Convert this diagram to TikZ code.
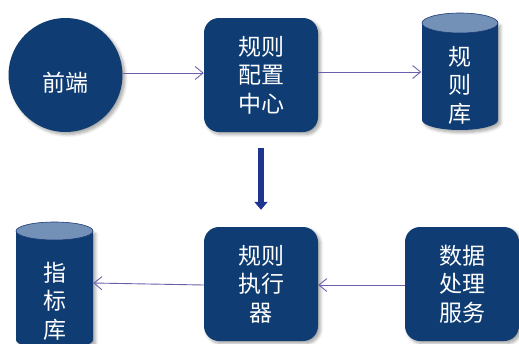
\documentclass[tikz,border=0pt]{standalone}
\usepackage{fontspec}
\newfontfamily\cjk{Noto Sans CJK SC}
\usetikzlibrary{arrows.meta,shadows.blur,calc}
\definecolor{navy}{HTML}{0E3C73}
\definecolor{capblue}{HTML}{7391B6}
\definecolor{edgeblue}{HTML}{1B3A78}
\definecolor{linkcol}{HTML}{6A5FAA}
\definecolor{bigarrow}{HTML}{1E3590}
\tikzset{
  x=1pt, y=1pt,
  softshadow/.style={blur shadow={shadow xshift=2.5pt, shadow yshift=-2.5pt,
      shadow blur radius=3pt, shadow blur steps=6, shadow opacity=35}},
  lbl/.style={text=white, font=\cjk\fontsize{23}{28.5}\selectfont, align=center, inner sep=0pt},
  procbox/.style={lbl, fill=navy, rounded corners=15pt, minimum width=114pt,
      minimum height=114pt, softshadow},
  endpoint/.style={lbl, fill=navy, circle, minimum size=114pt, softshadow},
  store/.style={lbl, minimum width=77pt, minimum height=100pt},
  storecap/.style={fill=capblue, draw=edgeblue, line width=0.6pt},
  link/.style={draw=linkcol, line width=0.9pt, -{Straight Barb[length=8pt,width=13pt]}},
}
\begin{document}
\begin{tikzpicture}
\useasboundingbox (0,0) rectangle (519,-343);
\clip (0,0) rectangle (519,-343);

% top row
\node[endpoint, text height=37pt, text depth=4pt] (fe) at (65.5,-75) {前端};
\node[procbox] (cfg) at (261,-75) {规则\\配置\\中心};

% rule store cylinder
\fill[navy, softshadow] (422,-23) -- (422,-120)
  arc[start angle=180, end angle=360, x radius=38, y radius=10] -- (498,-23) -- cycle;
\filldraw[storecap] (460,-23) ellipse [x radius=38, y radius=10];
\node[store] (rdb) at (460,-85) {规\\则\\库};

% bottom row
\node[procbox] (exe) at (261,-284) {规则\\执行\\器};
\node[procbox] (dps) at (462,-284) {数据\\处理\\服务};

% metric store cylinder
\fill[navy, softshadow] (16,-231) -- (16,-340)
  arc[start angle=180, end angle=360, x radius=38.5, y radius=9] -- (93,-231) -- cycle;
\filldraw[storecap] (54.5,-231) ellipse [x radius=38.5, y radius=9];
\node[store] (mdb) at (54.5,-301) {指\\标\\库};

% connectors
\draw[link] (fe.east |- 0,-73) -- (cfg.west |- 0,-73);
\draw[link] (cfg.east |- 0,-72) -- (rdb.west |- 0,-72);
\draw[link] (dps.west |- 0,-285) -- (exe.east |- 0,-285);
\draw[link] (exe.west |- 0,-285) -- (mdb.east |- 0,-283);
\draw[bigarrow, line width=5.5pt, shorten <=16pt, shorten >=17pt,
  -{Triangle[length=8pt,width=13pt]}] (cfg.south) -- (exe.north);
\end{tikzpicture}
\end{document}
